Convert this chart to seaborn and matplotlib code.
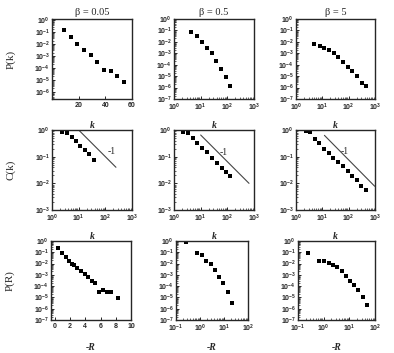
import numpy as np
import seaborn as sns
import matplotlib
matplotlib.use("Agg")
import matplotlib.pyplot as plt
from matplotlib.ticker import FixedLocator, FuncFormatter, NullFormatter, LogLocator

# ---- data ----
betas = ["0.05", "0.5", "5"]

# degree distribution P(k)
pk_k_005 = [9, 14, 19, 24, 29, 34, 39, 44, 49, 54]
pk_p_005 = [0.17, 4.2e-2, 1.1e-2, 3.3e-3, 1.2e-3, 3.0e-4, 6.6e-5, 5.1e-5, 2.0e-5, 6.9e-6]
pk_k_05 = [4.2, 7.5, 11.2, 17.3, 25.8, 38.7, 59.6, 86.7, 129]
pk_p_05 = [6.6e-2, 3.2e-2, 1.0e-2, 2.9e-3, 1.0e-3, 2.2e-4, 4.6e-5, 8.5e-6, 1.3e-6]
pk_k_5 = [4.7, 7.9, 11.8, 17.7, 27.4, 41, 63.5, 92.6, 139, 203, 313, 458]
pk_p_5 = [7.1e-3, 4.4e-3, 2.7e-3, 1.9e-3, 1.1e-3, 5.0e-4, 1.9e-4, 6.5e-5, 2.7e-5, 9.8e-6, 2.3e-6, 1.3e-6]

# clustering C(k)
ck_k_005 = [2.3, 3.5, 5.5, 7.8, 11.4, 16.6, 25, 38.8]
ck_c_005 = [0.83, 0.79, 0.55, 0.38, 0.26, 0.18, 0.126, 0.074]
ck_k_05 = [2.2, 3.4, 5.0, 7.5, 10.9, 16.9, 26.1, 40.4, 62.5, 89, 122]
ck_c_05 = [0.86, 0.76, 0.50, 0.32, 0.22, 0.148, 0.089, 0.060, 0.036, 0.026, 0.0195]
ck_k_5 = [2.4, 3.5, 5.1, 7.5, 11.3, 17.6, 26.5, 39.8, 61.7, 93, 136, 212, 300, 437]
ck_c_5 = [0.91, 0.86, 0.46, 0.32, 0.20, 0.14, 0.091, 0.062, 0.043, 0.028, 0.019, 0.013, 0.0081, 0.0055]

# slope -1 guide lines
guide_k_005 = [10, 250]
guide_c_005 = [1.0, 0.04]
guide_k_05 = [10, 650]
guide_c_05 = [0.65, 0.01]
guide_k_5 = [12, 970]
guide_c_5 = [0.63, 0.0078]
guide_lbl_pos = [(120, 0.155), (51, 0.138), (49, 0.151)]

# P(R)
pr_r_005 = [0.45, 0.95, 1.45, 1.9, 2.3, 2.5, 2.9, 3.4, 3.9, 4.4, 4.85, 5.3, 5.85, 6.35, 6.9, 7.35, 8.3]
pr_p_005 = [0.22, 0.085, 0.036, 0.018, 8.9e-3, 7.8e-3, 3.9e-3, 2.1e-3, 1.17e-3, 5.9e-4, 3.0e-4,
            1.95e-4, 2.95e-5, 4.8e-5, 2.95e-5, 2.95e-5, 8.5e-6]
pr_r_05 = [0.26, 0.74, 1.18, 1.86, 2.88, 4.07, 6.2, 9.3, 14.9, 21.8]
pr_p_05 = [0.87, 0.083, 0.055, 0.017, 8.5e-3, 2.5e-3, 7.1e-4, 1.8e-4, 3.2e-5, 3.4e-6]
pr_r_5 = [0.245, 0.68, 1.02, 1.55, 2.3, 3.4, 5.1, 7.3, 10.7, 15.8, 22.5, 33, 48]
pr_p_5 = [0.089, 0.018, 0.0158, 0.0112, 7.9e-3, 4.9e-3, 2.0e-3, 8.7e-4, 3.1e-4, 1.35e-4, 4.2e-5, 1.2e-5, 2.0e-6]

# ---- style ----
sns.set_style("ticks")
plt.rcParams['font.family'] = ['Liberation Sans', 'DejaVu Sans']
plt.rcParams['mathtext.fontset'] = 'custom'
plt.rcParams['mathtext.default'] = 'bf'
plt.rcParams['mathtext.rm'] = 'Liberation Sans:bold'
plt.rcParams['mathtext.bf'] = 'Liberation Sans:bold'
plt.rcParams['mathtext.it'] = 'Liberation Sans:bold'
plt.rcParams['axes.linewidth'] = 1.0
plt.rcParams['xtick.direction'] = 'in'
plt.rcParams['ytick.direction'] = 'in'

SERIF = ['Liberation Serif', 'DejaVu Serif']
W, H = 394, 353
fig = plt.figure(figsize=(W / 100, H / 100), dpi=100)


def add_panel(left, top, w, h):
    return fig.add_axes([left / W, 1 - (top + h) / H, w / W, h / H])


def pow_fmt(v, pos):
    return r"$\mathbf{10^{%d}}$" % int(round(np.log10(v)))


def log_axis(axis, lo, hi):
    axis.set_major_locator(FixedLocator([10.0 ** e for e in range(lo, hi + 1)]))
    axis.set_minor_locator(LogLocator(base=10, subs=np.arange(2, 10), numticks=30))
    axis.set_major_formatter(FuncFormatter(pow_fmt))
    axis.set_minor_formatter(NullFormatter())


def finish(ax):
    ax.tick_params(which='major', length=2.5, width=0.7, labelsize=5.0, pad=1.5)
    ax.tick_params(axis='x', which='major', pad=2.2)
    ax.tick_params(which='minor', length=1.4, width=0.5)
    for t in ax.get_xticklabels() + ax.get_yticklabels():
        t.set_fontweight('bold')


def dots(ax, x, y):
    sns.scatterplot(x=x, y=y, ax=ax, marker='s', s=6, color='black',
                    linewidth=0, legend=False)


col_left = [52, 174, 296]
col_w = [80, 80, 79]
row_top = [19, 130, 241]
ph = 80

pk_data = [(pk_k_005, pk_p_005), (pk_k_05, pk_p_05), (pk_k_5, pk_p_5)]
ck_data = [(ck_k_005, ck_c_005), (ck_k_05, ck_c_05), (ck_k_5, ck_c_5)]
guides = [(guide_k_005, guide_c_005), (guide_k_05, guide_c_05), (guide_k_5, guide_c_5)]
pr_data = [(pr_r_005, pr_p_005), (pr_r_05, pr_p_05), (pr_r_5, pr_p_5)]

# row 1: P(k)
for i in range(3):
    ax = add_panel(col_left[i], row_top[0], col_w[i], ph)
    ax.set_yscale('log')
    if i == 0:
        ax.set_xlim(0, 60)
        ax.set_xticks([20, 40, 60])
        ax.set_ylim(2.5e-7, 1.3)
        log_axis(ax.yaxis, -6, 0)
    else:
        ax.set_xscale('log')
        ax.set_xlim(1, 1000)
        log_axis(ax.xaxis, 0, 3)
        ax.set_ylim(1e-7, 1)
        log_axis(ax.yaxis, -7, 0)
    dots(ax, *pk_data[i])
    ax.set_title(r"β = " + betas[i], fontfamily=SERIF, fontsize=7.5, pad=3)
    ax.set_xlabel("k", fontfamily=SERIF, fontstyle='italic', fontweight='bold', fontsize=7)
    ax.xaxis.set_label_coords(0.5, -0.27)
    ax.set_ylabel("P(k)" if i == 0 else "", fontfamily=SERIF, fontsize=8)
    ax.yaxis.set_label_coords(-0.46, 0.5)
    finish(ax)

# row 2: C(k)
for i in range(3):
    ax = add_panel(col_left[i], row_top[1], col_w[i], ph)
    ax.set_xscale('log')
    ax.set_yscale('log')
    ax.set_xlim(1, 1000)
    ax.set_ylim(1e-3, 1)
    log_axis(ax.xaxis, 0, 3)
    log_axis(ax.yaxis, -3, 0)
    dots(ax, *ck_data[i])
    sns.lineplot(x=guides[i][0], y=guides[i][1], ax=ax, color='#444444', lw=0.8)
    ax.text(*guide_lbl_pos[i], "-1", fontfamily=SERIF, fontsize=7, ha='left', va='center')
    ax.set_xlabel("k", fontfamily=SERIF, fontstyle='italic', fontweight='bold', fontsize=7)
    ax.xaxis.set_label_coords(0.5, -0.27)
    ax.set_ylabel("C(k)" if i == 0 else "", fontfamily=SERIF, fontsize=8)
    ax.yaxis.set_label_coords(-0.46, 0.5)
    finish(ax)

# row 3: P(R)
row3_left = [51, 176, 298]
row3_w = [80, 72, 77]
for i in range(3):
    ax = add_panel(row3_left[i], row_top[2], row3_w[i], ph - 1)
    ax.set_yscale('log')
    ax.set_ylim(1e-7, 1)
    log_axis(ax.yaxis, -7, 0)
    if i == 0:
        ax.set_xlim(-0.5, 10)
        ax.set_xticks([0, 2, 4, 6, 8, 10])
    else:
        ax.set_xscale('log')
        ax.set_xlim(0.1, 100)
        log_axis(ax.xaxis, -1, 2)
    dots(ax, *pr_data[i])
    ax.set_xlabel("-R", fontfamily=SERIF, fontstyle='italic', fontweight='bold', fontsize=7)
    ax.xaxis.set_label_coords(0.5, -0.29)
    ax.set_ylabel("P(R)" if i == 0 else "", fontfamily=SERIF, fontsize=8)
    ax.yaxis.set_label_coords(-0.46, 0.5)
    finish(ax)

fig.savefig("out.png", dpi=100)
